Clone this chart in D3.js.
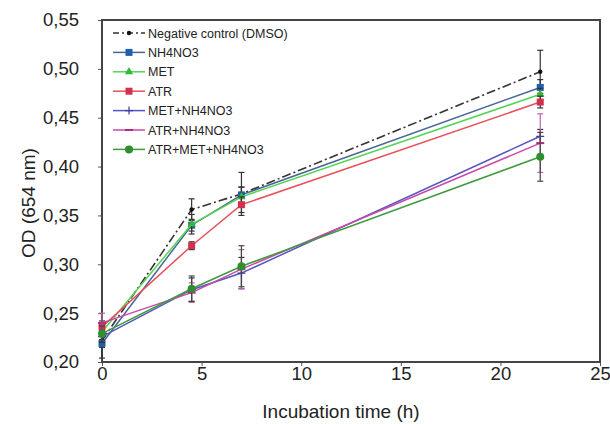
<!DOCTYPE html>
<html>
<head>
<meta charset="utf-8">
<script src="https://cdn.jsdelivr.net/npm/d3@7"></script>
<style>
  body { margin: 0; background: #fff; }
  svg { font-family: "Liberation Sans", Arial, sans-serif; }
</style>
</head>
<body>
<div id="chart"></div>
<script>
// incubation times (h)
var times = [0, 4.5, 7, 22];

var seriesNames = ["Negative control (DMSO)", "NH4NO3", "MET", "ATR",
                   "MET+NH4NO3", "ATR+NH4NO3", "ATR+MET+NH4NO3"];

// OD at 654 nm
var dmso      = [0.222, 0.356, 0.372, 0.497];
var nh4no3    = [0.219, 0.340, 0.371, 0.481];
var met       = [0.231, 0.341, 0.369, 0.474];
var atr       = [0.236, 0.319, 0.361, 0.466];
var metNh4    = [0.226, 0.274, 0.291, 0.431];
var atrNh4    = [0.240, 0.271, 0.295, 0.424];
var atrMetNh4 = [0.229, 0.275, 0.298, 0.410];

// standard deviations
var dmsoErr      = [0.018, 0.011, 0.022, 0.022];
var nh4no3Err    = [0.004, 0.006, 0.008, 0.008];
var metErr       = [0.005, 0.010, 0.010, 0.006];
var atrErr       = [0.006, 0.004, 0.008, 0.006];
var metNh4Err    = [0.006, 0.012, 0.016, 0.007];
var atrNh4Err    = [0.010, 0.010, 0.020, 0.030];
var atrMetNh4Err = [0.008, 0.013, 0.021, 0.025];

var xTicks = [0, 5, 10, 15, 20, 25];
var yTicks = [0.20, 0.25, 0.30, 0.35, 0.40, 0.45, 0.50, 0.55];

var values = [dmso, nh4no3, met, atr, metNh4, atrNh4, atrMetNh4];
var errors = [dmsoErr, nh4no3Err, metErr, atrErr, metNh4Err, atrNh4Err, atrMetNh4Err];

// drawing styles per series
var styles = [
  {line: "#333", marker: "circle", fill: "#111", size: 2.2, dash: "9,3,2,3", err: "#333"},
  {line: "#4a6595", marker: "square", fill: "#1f5fae", size: 7, dash: null, err: "#333"},
  {line: "#52d452", marker: "triangle", fill: "#36b836", size: 7, dash: null, err: "#333"},
  {line: "#e8505c", marker: "square", fill: "#d2304e", size: 7, dash: null, err: "#333"},
  {line: "#5555bf", marker: "plus", fill: "#3a3aa0", size: 4, dash: null, err: "#333"},
  {line: "#c848a8", marker: "dash", fill: "#b03070", size: 4, dash: null, err: "#c060b0"},
  {line: "#3f9a3f", marker: "circle", fill: "#2f8f2f", size: 4, dash: null, err: "#444"}
];

var svg = d3.select("#chart").append("svg")
            .attr("width", 610)
            .attr("height", 424);

var margin = {top: 20, right: 10, bottom: 62, left: 102};
var width = 600 - margin.left;
var height = 362 - margin.top;

var x = d3.scaleLinear().domain([0, 25]).range([0, width]);
var y = d3.scaleLinear().domain([0.20, 0.55]).range([height, 0]);

var g = svg.append("g")
           .attr("transform", "translate(" + margin.left + "," + margin.top + ")");

var fmt = function(d) { return d3.format(".2f")(d).replace(".", ","); };

// axes
var xAxis = g.append("g")
    .attr("transform", "translate(0," + height + ")")
    .call(d3.axisBottom(x).tickValues(xTicks).tickSize(4).tickPadding(1));
var yAxis = g.append("g")
    .call(d3.axisLeft(y).tickValues(yTicks).tickSize(4).tickPadding(19).tickFormat(fmt));

[xAxis, yAxis].forEach(function(a) {
  a.select(".domain").remove();
  a.selectAll("line").attr("stroke", "#555");
  a.selectAll("text").attr("font-size", 18.5).attr("fill", "#222")
   .attr("font-family", "Liberation Sans, Arial, sans-serif");
});

// plot frame
g.append("rect")
  .attr("x", 0).attr("y", 0)
  .attr("width", width).attr("height", height)
  .attr("fill", "none")
  .attr("stroke", "#444")
  .attr("stroke-width", 2);

// axis titles
svg.append("text")
   .attr("x", 341).attr("y", 418)
   .attr("text-anchor", "middle")
   .attr("font-size", 19)
   .attr("fill", "#222")
   .text("Incubation time (h)");

svg.append("text")
   .attr("transform", "translate(35,203)rotate(-90)")
   .attr("text-anchor", "middle")
   .attr("font-size", 19)
   .attr("fill", "#222")
   .text("OD (654 nm)");

var line = d3.line()
    .x(function(d) { return x(d.t); })
    .y(function(d) { return y(d.v); });

function drawMarker(sel, st) {
  var s = st.size;
  if (st.marker == "square") {
    sel.append("rect").attr("x", -s / 2).attr("y", -s / 2)
       .attr("width", s).attr("height", s).attr("fill", st.fill);
  } else if (st.marker == "triangle") {
    sel.append("path").attr("d", d3.symbol(d3.symbolTriangle, s * s * 0.6)())
       .attr("fill", st.fill);
  } else if (st.marker == "circle") {
    sel.append("circle").attr("r", s).attr("fill", st.fill);
  } else if (st.marker == "plus") {
    sel.append("path").attr("d", "M" + (-s) + ",0H" + s + "M0," + (-s) + "V" + s)
       .attr("stroke", st.fill).attr("stroke-width", 1.2);
  } else {
    sel.append("path").attr("d", "M" + (-s) + ",0H" + s)
       .attr("stroke", st.fill).attr("stroke-width", 2);
  }
}

values.forEach(function(vals, i) {
  var st = styles[i];
  var pts = times.map(function(t, j) { return {t: t, v: vals[j], e: errors[i][j]}; });

  // error bars
  var eb = g.append("g").attr("stroke", st.err).attr("stroke-width", 1.2);
  pts.forEach(function(p) {
    eb.append("line").attr("x1", x(p.t)).attr("x2", x(p.t))
      .attr("y1", y(p.v - p.e)).attr("y2", y(p.v + p.e));
    [p.v - p.e, p.v + p.e].forEach(function(v) {
      eb.append("line").attr("x1", x(p.t) - 3).attr("x2", x(p.t) + 3)
        .attr("y1", y(v)).attr("y2", y(v));
    });
  });

  g.append("path")
    .datum(pts)
    .attr("fill", "none")
    .attr("stroke", st.line)
    .attr("stroke-width", i == 0 ? 1.6 : 1.5)
    .attr("stroke-dasharray", st.dash)
    .attr("d", line);

  pts.forEach(function(p) {
    drawMarker(g.append("g").attr("transform", "translate(" + x(p.t) + "," + y(p.v) + ")"), st);
  });
});

// legend
var legend = svg.append("g").attr("transform", "translate(113,33)");
seriesNames.forEach(function(name, i) {
  var st = styles[i];
  var row = legend.append("g").attr("transform", "translate(0," + (i * 19.4) + ")");
  row.append("line").attr("x1", 0).attr("x2", 32).attr("y1", 0).attr("y2", 0)
     .attr("stroke", st.line).attr("stroke-width", 1.5)
     .attr("stroke-dasharray", i == 0 ? "6,3,2,3" : null);
  drawMarker(row.append("g").attr("transform", "translate(16,0)"), st);
  row.append("text").attr("x", 35).attr("y", 4.5)
     .attr("font-size", 12.5).attr("fill", "#222")
     .text(name);
});
</script>
</body>
</html>
